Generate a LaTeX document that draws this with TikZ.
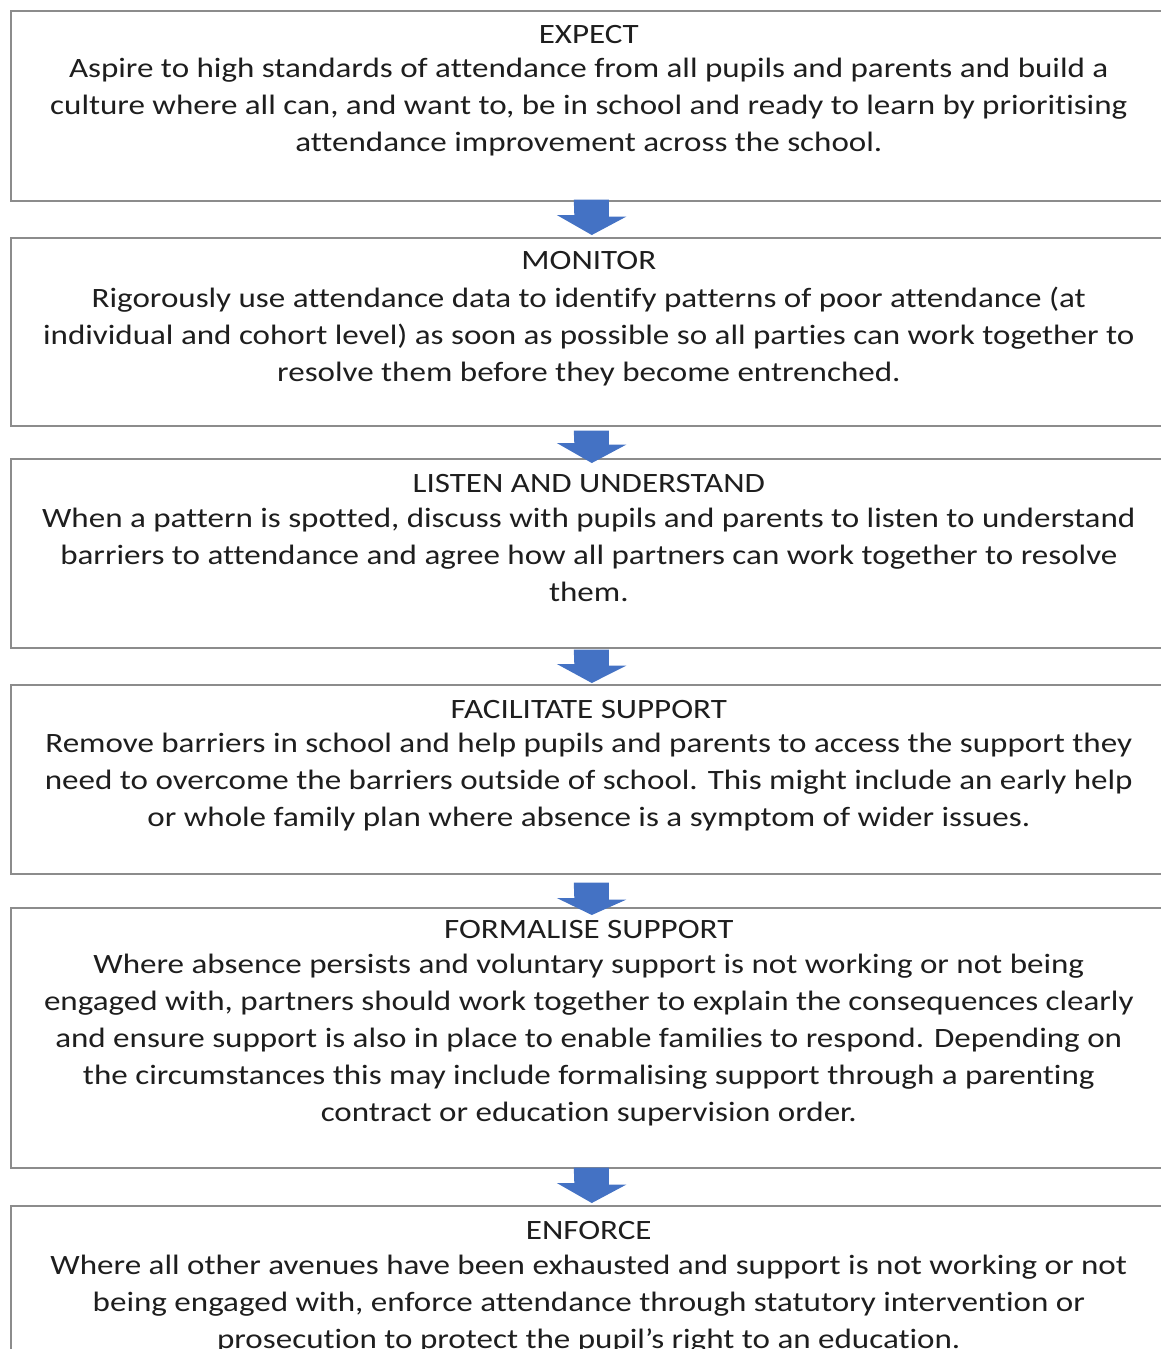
\documentclass[tikz,border=0pt]{standalone}
\usepackage{fontspec}
\setmainfont{Carlito}[FakeStretch=1.18, Ligatures={NoCommon}]
\usetikzlibrary{calc}
\definecolor{boxline}{RGB}{140,140,140}
\definecolor{arrowblue}{RGB}{68,114,196}
\definecolor{txt}{RGB}{30,30,30}
\tikzset{
  stagebox/.style={draw=boxline, line width=1.6pt, fill=white, rectangle, inner sep=0pt, minimum width=1156pt, anchor=north west},
  stagetext/.style={anchor=north, inner sep=0pt, align=center, text=txt, font=\fontsize{28}{37}\selectfont},
  blockarrow/.style={fill=arrowblue, draw=none}
}
\newcommand\firstline{\rule{0pt}{20pt}}
\begin{document}
\begin{tikzpicture}[x=1pt,y=1pt]
\useasboundingbox (0,0) rectangle (1161,-1349);
\clip (0,0) rectangle (1161,-1349);
\fill[white] (0,0) rectangle (1161,-1349);
\node[stagebox, minimum height=190pt] (b1) at (10,-10) {};
\node[stagebox, minimum height=188pt] (b2) at (10,-237) {};
\node[stagebox, minimum height=189pt] (b3) at (10,-458) {};
\node[stagebox, minimum height=189pt] (b4) at (10,-684) {};
\node[stagebox, minimum height=260pt] (b5) at (10,-907) {};
\node[stagebox, minimum height=200pt] (b6) at (10,-1205) {};
% arrows: shaft, then head ending at a tip just at the next box
\fill[blockarrow] ($(b1.south)+(-15,2)$) -- ++(35,0) -- ++(0,-17) -- ++(17.5,0) -- ($(b2.north)+(3,2)$) -- ++(-35,20) -- ++(17.5,0) -- cycle;
\fill[blockarrow] ($(b2.south)+(-15,-4)$) -- ++(35,0) -- ++(0,-14) -- ++(17.5,0) -- ($(b3.north)+(3,-5)$) -- ++(-35,20) -- ++(17.5,0) -- cycle;
\fill[blockarrow] ($(b3.south)+(-15,-1)$) -- ++(35,0) -- ++(0,-16) -- ++(17.5,0) -- ($(b4.north)+(3,1)$) -- ++(-35,19) -- ++(17.5,0) -- cycle;
\fill[blockarrow] ($(b4.south)+(-15,-8)$) -- ++(35,0) -- ++(0,-17) -- ++(17.5,0) -- ($(b5.north)+(3,-8)$) -- ++(-35,17) -- ++(17.5,0) -- cycle;
\fill[blockarrow] ($(b5.south)+(-15,1)$) -- ++(35,0) -- ++(0,-17) -- ++(17.5,0) -- ($(b6.north)+(3,2)$) -- ++(-35,20) -- ++(17.5,0) -- cycle;
% texts
\node[stagetext] (t1) at ($(b1.north)+(0,-13)$) {\firstline EXPECT\\[-3pt]
Aspire to high standards of attendance from all pupils and parents and build a\\
culture where all can, and want to, be in school and ready to learn by prioritising\\
attendance improvement across the school.};
\node[stagetext] (t2) at ($(b2.north)+(0,-12)$) {\firstline MONITOR\\[1pt]
Rigorously use attendance data to identify patterns of poor attendance (at\\
individual and cohort level) as soon as possible so all parties can work together to\\
resolve them before they become entrenched.};
\node[stagetext] (t3) at ($(b3.north)+(0,-14)$) {\firstline LISTEN AND UNDERSTAND\\[-2pt]
When a pattern is spotted, discuss with pupils and parents to listen to understand\\
barriers to attendance and agree how all partners can work together to resolve\\
them.};
\node[stagetext] (t4) at ($(b4.north)+(0,-14)$) {\firstline FACILITATE SUPPORT\\[-3pt]
Remove barriers in school and help pupils and parents to access the support they\\
need to overcome the barriers outside of school. This might include an early help\\
or whole family plan where absence is a symptom of wider issues.};
\node[stagetext] (t5) at ($(b5.north)+(0,-11)$) {\firstline FORMALISE SUPPORT\\[-2pt]
Where absence persists and voluntary support is not working or not being\\
engaged with, partners should work together to explain the consequences clearly\\
and ensure support is also in place to enable families to respond. Depending on\\
the circumstances this may include formalising support through a parenting\\
contract or education supervision order.};
\node[stagetext] (t6) at ($(b6.north)+(0,-14)$) {\firstline ENFORCE\\[-2pt]
Where all other avenues have been exhausted and support is not working or not\\
being engaged with, enforce attendance through statutory intervention or\\
prosecution to protect the pupil’s right to an education.};
\end{tikzpicture}
\end{document}
